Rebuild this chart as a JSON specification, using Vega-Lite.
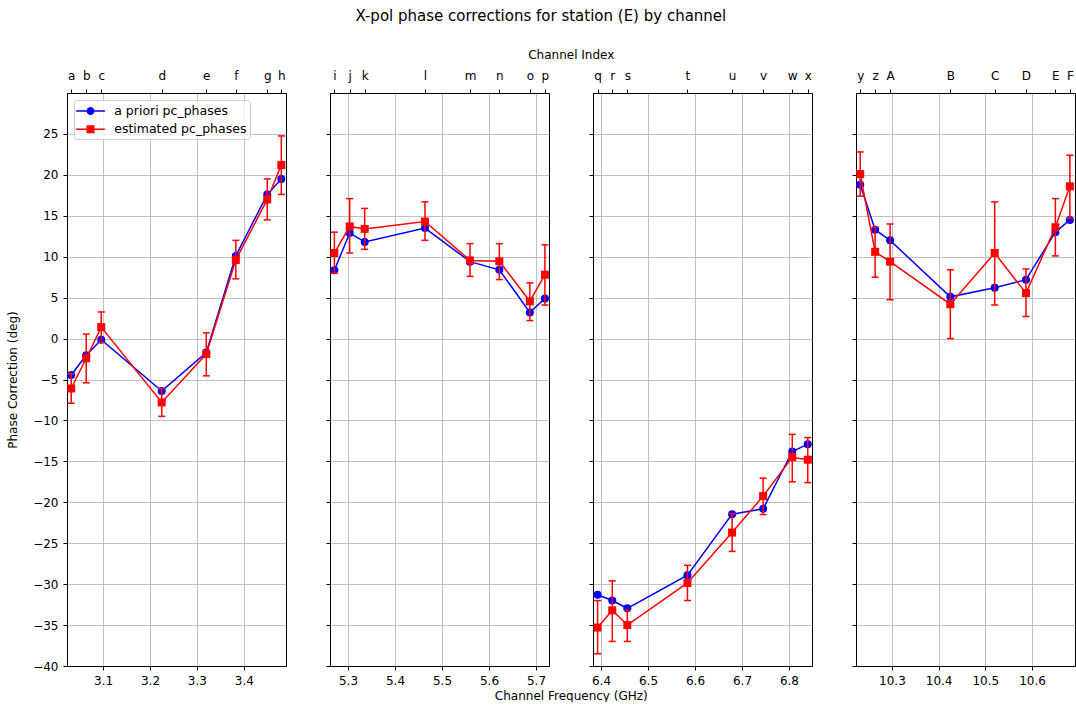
{
  "$schema": "https://vega.github.io/schema/vega-lite/v6.json",
  "padding": {"left": 6, "top": 9, "right": 0, "bottom": 0},
  "bounds": "flush",
  "spacing": 44,
  "title": {"text": "X-pol phase corrections for station (E) by channel", "fontSize": 15, "fontWeight": "normal", "color": "#000000", "anchor": "middle", "offset": 24},
  "config": {
    "font": "DejaVu Sans",
    "view": {"stroke": "#000000", "strokeWidth": 1},
    "axis": {"labelFontSize": 12, "titleFontSize": 12, "titleFontWeight": "normal", "labelColor": "#000000", "titleColor": "#000000", "tickColor": "#000000", "domainColor": "#000000", "tickSize": 4, "tickWidth": 1, "labelPadding": 5, "gridColor": "#b0b0b0", "gridWidth": 0.8, "labelFlush": false, "labelOverlap": false},
    "legend": {"labelFontSize": 12.5, "labelColor": "#000000"}
  },
  "datasets": {
    "pts": [
      {"panel": 1, "ch": "a", "freq": 3.032, "apriori": -4.45, "est": -6.1, "lo": -7.9, "hi": -4.3},
      {"panel": 1, "ch": "b", "freq": 3.064, "apriori": -2.05, "est": -2.4, "lo": -5.4, "hi": 0.55},
      {"panel": 1, "ch": "c", "freq": 3.096, "apriori": -0.15, "est": 1.4, "lo": -0.45, "hi": 3.25},
      {"panel": 1, "ch": "d", "freq": 3.225, "apriori": -6.4, "est": -7.8, "lo": -9.5, "hi": -6.1},
      {"panel": 1, "ch": "e", "freq": 3.32, "apriori": -1.7, "est": -1.9, "lo": -4.55, "hi": 0.7},
      {"panel": 1, "ch": "f", "freq": 3.383, "apriori": 10.1, "est": 9.6, "lo": 7.3, "hi": 12.0},
      {"panel": 1, "ch": "g", "freq": 3.45, "apriori": 17.6, "est": 17.0, "lo": 14.5, "hi": 19.5},
      {"panel": 1, "ch": "h", "freq": 3.48, "apriori": 19.5, "est": 21.2, "lo": 17.6, "hi": 24.75},
      {"panel": 2, "ch": "i", "freq": 5.271, "apriori": 8.35, "est": 10.45, "lo": 8.0, "hi": 13.0},
      {"panel": 2, "ch": "j", "freq": 5.3036, "apriori": 12.9, "est": 13.7, "lo": 10.45, "hi": 17.1},
      {"panel": 2, "ch": "k", "freq": 5.3355, "apriori": 11.8, "est": 13.4, "lo": 10.9, "hi": 15.9},
      {"panel": 2, "ch": "l", "freq": 5.4638, "apriori": 13.5, "est": 14.3, "lo": 12.0, "hi": 16.7},
      {"panel": 2, "ch": "m", "freq": 5.5596, "apriori": 9.4, "est": 9.55, "lo": 7.6, "hi": 11.6},
      {"panel": 2, "ch": "n", "freq": 5.622, "apriori": 8.4, "est": 9.45, "lo": 7.2, "hi": 11.6},
      {"panel": 2, "ch": "o", "freq": 5.687, "apriori": 3.2, "est": 4.55, "lo": 2.2, "hi": 6.8},
      {"panel": 2, "ch": "p", "freq": 5.719, "apriori": 4.9, "est": 7.8, "lo": 4.1, "hi": 11.45},
      {"panel": 3, "ch": "q", "freq": 6.3928, "apriori": -31.3, "est": -35.3, "lo": -38.5, "hi": -32.0},
      {"panel": 3, "ch": "r", "freq": 6.424, "apriori": -32.0, "est": -33.2, "lo": -37.0, "hi": -29.6},
      {"panel": 3, "ch": "s", "freq": 6.456, "apriori": -32.95, "est": -35.0, "lo": -37.0, "hi": -33.2},
      {"panel": 3, "ch": "t", "freq": 6.584, "apriori": -28.9, "est": -29.85, "lo": -32.0, "hi": -27.7},
      {"panel": 3, "ch": "u", "freq": 6.679, "apriori": -21.45, "est": -23.7, "lo": -26.0, "hi": -21.4},
      {"panel": 3, "ch": "v", "freq": 6.745, "apriori": -20.8, "est": -19.25, "lo": -21.5, "hi": -17.05},
      {"panel": 3, "ch": "w", "freq": 6.807, "apriori": -13.8, "est": -14.5, "lo": -17.5, "hi": -11.7},
      {"panel": 3, "ch": "x", "freq": 6.84, "apriori": -12.9, "est": -14.8, "lo": -17.6, "hi": -12.1},
      {"panel": 4, "ch": "y", "freq": 10.232, "apriori": 18.8, "est": 20.1, "lo": 17.4, "hi": 22.8},
      {"panel": 4, "ch": "z", "freq": 10.264, "apriori": 13.3, "est": 10.6, "lo": 7.5, "hi": 13.6},
      {"panel": 4, "ch": "A", "freq": 10.296, "apriori": 12.0, "est": 9.4, "lo": 4.75, "hi": 14.0},
      {"panel": 4, "ch": "B", "freq": 10.425, "apriori": 5.1, "est": 4.2, "lo": 0.0, "hi": 8.4},
      {"panel": 4, "ch": "C", "freq": 10.52, "apriori": 6.2, "est": 10.45, "lo": 4.1, "hi": 16.7},
      {"panel": 4, "ch": "D", "freq": 10.587, "apriori": 7.2, "est": 5.55, "lo": 2.7, "hi": 8.5},
      {"panel": 4, "ch": "E", "freq": 10.65, "apriori": 13.0, "est": 13.6, "lo": 10.1, "hi": 17.1},
      {"panel": 4, "ch": "F", "freq": 10.681, "apriori": 14.5, "est": 18.6, "lo": 14.7, "hi": 22.4}
    ]
  },
  "hconcat": [
    {
      "width": 219, "height": 573,
      "data": {"name": "pts"},
      "transform": [{"filter": "datum.panel == 1"}],
      "encoding": {"x": {"field": "freq", "type": "quantitative", "scale": {"domain": [3.023, 3.49], "nice": false, "zero": false}, "axis": null}},
      "layer": [
        {"mark": {"type": "line", "color": "#0000ff", "strokeWidth": 1.5},
         "encoding": {
           "x": {"field": "freq", "type": "quantitative", "scale": {"domain": [3.023, 3.49], "nice": false, "zero": false}, "axis": {"orient": "bottom", "values": [3.1, 3.2, 3.3, 3.4], "format": ".1f", "grid": true, "title": null}},
           "y": {"field": "apriori", "type": "quantitative", "title": "Phase Correction (deg)", "scale": {"domain": [-40, 30], "nice": false, "zero": false}, "axis": {"values": [-40, -35, -30, -25, -20, -15, -10, -5, 0, 5, 10, 15, 20, 25], "title": "Phase Correction (deg)", "titlePadding": 13, "grid": true}}
         }},
        {"mark": {"type": "point", "shape": "circle", "filled": true, "color": "#0000ff", "size": 64, "opacity": 1},
         "encoding": {"y": {"field": "apriori", "type": "quantitative", "title": "Phase Correction (deg)", "scale": {"domain": [-40, 30], "nice": false, "zero": false}, "axis": {"values": [-40, -35, -30, -25, -20, -15, -10, -5, 0, 5, 10, 15, 20, 25], "title": "Phase Correction (deg)", "titlePadding": 13, "grid": true}}}},
        {"mark": {"type": "rule", "color": "#ff0000", "strokeWidth": 1.5},
         "encoding": {"y": {"field": "lo", "type": "quantitative", "title": "Phase Correction (deg)", "scale": {"domain": [-40, 30], "nice": false, "zero": false}, "axis": {"values": [-40, -35, -30, -25, -20, -15, -10, -5, 0, 5, 10, 15, 20, 25], "title": "Phase Correction (deg)", "titlePadding": 13, "grid": true}}, "y2": {"field": "hi"}}},
        {"mark": {"type": "tick", "orient": "horizontal", "color": "#ff0000", "size": 7, "thickness": 1.5, "opacity": 1},
         "encoding": {"y": {"field": "lo", "type": "quantitative", "title": "Phase Correction (deg)", "scale": {"domain": [-40, 30], "nice": false, "zero": false}, "axis": {"values": [-40, -35, -30, -25, -20, -15, -10, -5, 0, 5, 10, 15, 20, 25], "title": "Phase Correction (deg)", "titlePadding": 13, "grid": true}}}},
        {"mark": {"type": "tick", "orient": "horizontal", "color": "#ff0000", "size": 7, "thickness": 1.5, "opacity": 1},
         "encoding": {"y": {"field": "hi", "type": "quantitative", "title": "Phase Correction (deg)", "scale": {"domain": [-40, 30], "nice": false, "zero": false}, "axis": {"values": [-40, -35, -30, -25, -20, -15, -10, -5, 0, 5, 10, 15, 20, 25], "title": "Phase Correction (deg)", "titlePadding": 13, "grid": true}}}},
        {"mark": {"type": "line", "color": "#ff0000", "strokeWidth": 1.5},
         "encoding": {"y": {"field": "est", "type": "quantitative", "title": "Phase Correction (deg)", "scale": {"domain": [-40, 30], "nice": false, "zero": false}, "axis": {"values": [-40, -35, -30, -25, -20, -15, -10, -5, 0, 5, 10, 15, 20, 25], "title": "Phase Correction (deg)", "titlePadding": 13, "grid": true}}}},
        {"mark": {"type": "point", "shape": "square", "filled": true, "color": "#ff0000", "size": 64, "opacity": 1},
         "encoding": {
           "x": {"field": "freq", "type": "quantitative", "scale": {"domain": [3.023, 3.49], "nice": false, "zero": false}, "axis": {"orient": "top", "labelPadding": 6.5, "values": [3.032, 3.064, 3.096, 3.225, 3.32, 3.383, 3.45, 3.48], "labelExpr": "['a','b','c','d','e','f','g','h'][indexof([3.032, 3.064, 3.096, 3.225, 3.32, 3.383, 3.45, 3.48], datum.value)]", "grid": false, "title": null}},
           "y": {"field": "est", "type": "quantitative", "title": "Phase Correction (deg)", "scale": {"domain": [-40, 30], "nice": false, "zero": false}, "axis": {"values": [-40, -35, -30, -25, -20, -15, -10, -5, 0, 5, 10, 15, 20, 25], "title": "Phase Correction (deg)", "titlePadding": 13, "grid": true}}
         }},
        {"data": {"values": [{"series": "a priori pc_phases"}, {"series": "estimated pc_phases"}]},
         "mark": {"type": "point", "filled": true, "opacity": 0},
         "encoding": {
           "shape": {"field": "series", "type": "nominal", "scale": {"domain": ["a priori pc_phases", "estimated pc_phases"], "range": ["M-1.8,-0.095L1.8,-0.095L1.8,0.095L-1.8,0.095ZM0.5,0A0.5,0.5,0,1,1,-0.5,0A0.5,0.5,0,1,1,0.5,0Z", "M-1.8,-0.095L1.8,-0.095L1.8,0.095L-1.8,0.095ZM-0.5,-0.5L0.5,-0.5L0.5,0.5L-0.5,0.5Z"]},
             "legend": {"title": null, "orient": "top-left", "offset": 6.5, "padding": 3, "symbolOffset": 5.5, "labelOffset": 15.7, "rowPadding": 3.3, "fillColor": "rgba(255,255,255,0.8)", "strokeColor": "#cccccc", "cornerRadius": 3, "symbolSize": 256, "symbolStrokeWidth": 0, "symbolOpacity": 1}},
           "color": {"field": "series", "type": "nominal", "scale": {"domain": ["a priori pc_phases", "estimated pc_phases"], "range": ["#0000ff", "#ff0000"]},
             "legend": {"title": null, "orient": "top-left", "offset": 6.5, "padding": 3, "symbolOffset": 5.5, "labelOffset": 15.7, "rowPadding": 3.3, "fillColor": "rgba(255,255,255,0.8)", "strokeColor": "#cccccc", "cornerRadius": 3, "symbolSize": 256, "symbolStrokeWidth": 0, "symbolOpacity": 1}}
         }}
      ],
      "resolve": {"axis": {"x": "independent"}}
    },
    {
      "width": 219, "height": 573,
      "data": {"name": "pts"},
      "transform": [{"filter": "datum.panel == 2"}],
      "encoding": {"x": {"field": "freq", "type": "quantitative", "scale": {"domain": [5.2617, 5.7277], "nice": false, "zero": false}, "axis": null}},
      "layer": [
        {"mark": {"type": "line", "color": "#0000ff", "strokeWidth": 1.5},
         "encoding": {
           "x": {"field": "freq", "type": "quantitative", "scale": {"domain": [5.2617, 5.7277], "nice": false, "zero": false}, "axis": {"orient": "bottom", "values": [5.3, 5.4, 5.5, 5.6, 5.7], "format": ".1f", "grid": true, "title": "Channel Frequency (GHz)", "titleX": 240.8, "titleAlign": "center", "titlePadding": 4}},
           "y": {"field": "apriori", "type": "quantitative", "title": null, "scale": {"domain": [-40, 30], "nice": false, "zero": false}, "axis": {"values": [-40, -35, -30, -25, -20, -15, -10, -5, 0, 5, 10, 15, 20, 25], "labels": false, "title": null, "grid": true}}
         }},
        {"mark": {"type": "point", "shape": "circle", "filled": true, "color": "#0000ff", "size": 64, "opacity": 1},
         "encoding": {"y": {"field": "apriori", "type": "quantitative", "title": null, "scale": {"domain": [-40, 30], "nice": false, "zero": false}, "axis": {"values": [-40, -35, -30, -25, -20, -15, -10, -5, 0, 5, 10, 15, 20, 25], "labels": false, "title": null, "grid": true}}}},
        {"mark": {"type": "rule", "color": "#ff0000", "strokeWidth": 1.5},
         "encoding": {"y": {"field": "lo", "type": "quantitative", "title": null, "scale": {"domain": [-40, 30], "nice": false, "zero": false}, "axis": {"values": [-40, -35, -30, -25, -20, -15, -10, -5, 0, 5, 10, 15, 20, 25], "labels": false, "title": null, "grid": true}}, "y2": {"field": "hi"}}},
        {"mark": {"type": "tick", "orient": "horizontal", "color": "#ff0000", "size": 7, "thickness": 1.5, "opacity": 1},
         "encoding": {"y": {"field": "lo", "type": "quantitative", "title": null, "scale": {"domain": [-40, 30], "nice": false, "zero": false}, "axis": {"values": [-40, -35, -30, -25, -20, -15, -10, -5, 0, 5, 10, 15, 20, 25], "labels": false, "title": null, "grid": true}}}},
        {"mark": {"type": "tick", "orient": "horizontal", "color": "#ff0000", "size": 7, "thickness": 1.5, "opacity": 1},
         "encoding": {"y": {"field": "hi", "type": "quantitative", "title": null, "scale": {"domain": [-40, 30], "nice": false, "zero": false}, "axis": {"values": [-40, -35, -30, -25, -20, -15, -10, -5, 0, 5, 10, 15, 20, 25], "labels": false, "title": null, "grid": true}}}},
        {"mark": {"type": "line", "color": "#ff0000", "strokeWidth": 1.5},
         "encoding": {"y": {"field": "est", "type": "quantitative", "title": null, "scale": {"domain": [-40, 30], "nice": false, "zero": false}, "axis": {"values": [-40, -35, -30, -25, -20, -15, -10, -5, 0, 5, 10, 15, 20, 25], "labels": false, "title": null, "grid": true}}}},
        {"mark": {"type": "point", "shape": "square", "filled": true, "color": "#ff0000", "size": 64, "opacity": 1},
         "encoding": {
           "x": {"field": "freq", "type": "quantitative", "scale": {"domain": [5.2617, 5.7277], "nice": false, "zero": false}, "axis": {"orient": "top", "labelPadding": 6.5, "values": [5.271, 5.3036, 5.3355, 5.4638, 5.5596, 5.622, 5.687, 5.719], "labelExpr": "['i','j','k','l','m','n','o','p'][indexof([5.271, 5.3036, 5.3355, 5.4638, 5.5596, 5.622, 5.687, 5.719], datum.value)]", "grid": false, "title": "Channel Index", "titleX": 240.8, "titleAlign": "center", "titlePadding": 8}},
           "y": {"field": "est", "type": "quantitative", "title": null, "scale": {"domain": [-40, 30], "nice": false, "zero": false}, "axis": {"values": [-40, -35, -30, -25, -20, -15, -10, -5, 0, 5, 10, 15, 20, 25], "labels": false, "title": null, "grid": true}}
         }}
      ],
      "resolve": {"axis": {"x": "independent"}}
    },
    {
      "width": 219, "height": 573,
      "data": {"name": "pts"},
      "transform": [{"filter": "datum.panel == 3"}],
      "encoding": {"x": {"field": "freq", "type": "quantitative", "scale": {"domain": [6.383, 6.849], "nice": false, "zero": false}, "axis": null}},
      "layer": [
        {"mark": {"type": "line", "color": "#0000ff", "strokeWidth": 1.5},
         "encoding": {
           "x": {"field": "freq", "type": "quantitative", "scale": {"domain": [6.383, 6.849], "nice": false, "zero": false}, "axis": {"orient": "bottom", "values": [6.4, 6.5, 6.6, 6.7, 6.8], "format": ".1f", "grid": true, "title": null}},
           "y": {"field": "apriori", "type": "quantitative", "title": null, "scale": {"domain": [-40, 30], "nice": false, "zero": false}, "axis": {"values": [-40, -35, -30, -25, -20, -15, -10, -5, 0, 5, 10, 15, 20, 25], "labels": false, "title": null, "grid": true}}
         }},
        {"mark": {"type": "point", "shape": "circle", "filled": true, "color": "#0000ff", "size": 64, "opacity": 1},
         "encoding": {"y": {"field": "apriori", "type": "quantitative", "title": null, "scale": {"domain": [-40, 30], "nice": false, "zero": false}, "axis": {"values": [-40, -35, -30, -25, -20, -15, -10, -5, 0, 5, 10, 15, 20, 25], "labels": false, "title": null, "grid": true}}}},
        {"mark": {"type": "rule", "color": "#ff0000", "strokeWidth": 1.5},
         "encoding": {"y": {"field": "lo", "type": "quantitative", "title": null, "scale": {"domain": [-40, 30], "nice": false, "zero": false}, "axis": {"values": [-40, -35, -30, -25, -20, -15, -10, -5, 0, 5, 10, 15, 20, 25], "labels": false, "title": null, "grid": true}}, "y2": {"field": "hi"}}},
        {"mark": {"type": "tick", "orient": "horizontal", "color": "#ff0000", "size": 7, "thickness": 1.5, "opacity": 1},
         "encoding": {"y": {"field": "lo", "type": "quantitative", "title": null, "scale": {"domain": [-40, 30], "nice": false, "zero": false}, "axis": {"values": [-40, -35, -30, -25, -20, -15, -10, -5, 0, 5, 10, 15, 20, 25], "labels": false, "title": null, "grid": true}}}},
        {"mark": {"type": "tick", "orient": "horizontal", "color": "#ff0000", "size": 7, "thickness": 1.5, "opacity": 1},
         "encoding": {"y": {"field": "hi", "type": "quantitative", "title": null, "scale": {"domain": [-40, 30], "nice": false, "zero": false}, "axis": {"values": [-40, -35, -30, -25, -20, -15, -10, -5, 0, 5, 10, 15, 20, 25], "labels": false, "title": null, "grid": true}}}},
        {"mark": {"type": "line", "color": "#ff0000", "strokeWidth": 1.5},
         "encoding": {"y": {"field": "est", "type": "quantitative", "title": null, "scale": {"domain": [-40, 30], "nice": false, "zero": false}, "axis": {"values": [-40, -35, -30, -25, -20, -15, -10, -5, 0, 5, 10, 15, 20, 25], "labels": false, "title": null, "grid": true}}}},
        {"mark": {"type": "point", "shape": "square", "filled": true, "color": "#ff0000", "size": 64, "opacity": 1},
         "encoding": {
           "x": {"field": "freq", "type": "quantitative", "scale": {"domain": [6.383, 6.849], "nice": false, "zero": false}, "axis": {"orient": "top", "labelPadding": 6.5, "values": [6.3928, 6.424, 6.456, 6.584, 6.679, 6.745, 6.807, 6.84], "labelExpr": "['q','r','s','t','u','v','w','x'][indexof([6.3928, 6.424, 6.456, 6.584, 6.679, 6.745, 6.807, 6.84], datum.value)]", "grid": false, "title": null}},
           "y": {"field": "est", "type": "quantitative", "title": null, "scale": {"domain": [-40, 30], "nice": false, "zero": false}, "axis": {"values": [-40, -35, -30, -25, -20, -15, -10, -5, 0, 5, 10, 15, 20, 25], "labels": false, "title": null, "grid": true}}
         }}
      ],
      "resolve": {"axis": {"x": "independent"}}
    },
    {
      "width": 219, "height": 573,
      "data": {"name": "pts"},
      "transform": [{"filter": "datum.panel == 4"}],
      "encoding": {"x": {"field": "freq", "type": "quantitative", "scale": {"domain": [10.223, 10.692], "nice": false, "zero": false}, "axis": null}},
      "layer": [
        {"mark": {"type": "line", "color": "#0000ff", "strokeWidth": 1.5},
         "encoding": {
           "x": {"field": "freq", "type": "quantitative", "scale": {"domain": [10.223, 10.692], "nice": false, "zero": false}, "axis": {"orient": "bottom", "values": [10.3, 10.4, 10.5, 10.6], "format": ".1f", "grid": true, "title": null}},
           "y": {"field": "apriori", "type": "quantitative", "title": null, "scale": {"domain": [-40, 30], "nice": false, "zero": false}, "axis": {"values": [-40, -35, -30, -25, -20, -15, -10, -5, 0, 5, 10, 15, 20, 25], "labels": false, "title": null, "grid": true}}
         }},
        {"mark": {"type": "point", "shape": "circle", "filled": true, "color": "#0000ff", "size": 64, "opacity": 1},
         "encoding": {"y": {"field": "apriori", "type": "quantitative", "title": null, "scale": {"domain": [-40, 30], "nice": false, "zero": false}, "axis": {"values": [-40, -35, -30, -25, -20, -15, -10, -5, 0, 5, 10, 15, 20, 25], "labels": false, "title": null, "grid": true}}}},
        {"mark": {"type": "rule", "color": "#ff0000", "strokeWidth": 1.5},
         "encoding": {"y": {"field": "lo", "type": "quantitative", "title": null, "scale": {"domain": [-40, 30], "nice": false, "zero": false}, "axis": {"values": [-40, -35, -30, -25, -20, -15, -10, -5, 0, 5, 10, 15, 20, 25], "labels": false, "title": null, "grid": true}}, "y2": {"field": "hi"}}},
        {"mark": {"type": "tick", "orient": "horizontal", "color": "#ff0000", "size": 7, "thickness": 1.5, "opacity": 1},
         "encoding": {"y": {"field": "lo", "type": "quantitative", "title": null, "scale": {"domain": [-40, 30], "nice": false, "zero": false}, "axis": {"values": [-40, -35, -30, -25, -20, -15, -10, -5, 0, 5, 10, 15, 20, 25], "labels": false, "title": null, "grid": true}}}},
        {"mark": {"type": "tick", "orient": "horizontal", "color": "#ff0000", "size": 7, "thickness": 1.5, "opacity": 1},
         "encoding": {"y": {"field": "hi", "type": "quantitative", "title": null, "scale": {"domain": [-40, 30], "nice": false, "zero": false}, "axis": {"values": [-40, -35, -30, -25, -20, -15, -10, -5, 0, 5, 10, 15, 20, 25], "labels": false, "title": null, "grid": true}}}},
        {"mark": {"type": "line", "color": "#ff0000", "strokeWidth": 1.5},
         "encoding": {"y": {"field": "est", "type": "quantitative", "title": null, "scale": {"domain": [-40, 30], "nice": false, "zero": false}, "axis": {"values": [-40, -35, -30, -25, -20, -15, -10, -5, 0, 5, 10, 15, 20, 25], "labels": false, "title": null, "grid": true}}}},
        {"mark": {"type": "point", "shape": "square", "filled": true, "color": "#ff0000", "size": 64, "opacity": 1},
         "encoding": {
           "x": {"field": "freq", "type": "quantitative", "scale": {"domain": [10.223, 10.692], "nice": false, "zero": false}, "axis": {"orient": "top", "labelPadding": 6.5, "values": [10.232, 10.264, 10.296, 10.425, 10.52, 10.587, 10.65, 10.681], "labelExpr": "['y','z','A','B','C','D','E','F'][indexof([10.232, 10.264, 10.296, 10.425, 10.52, 10.587, 10.65, 10.681], datum.value)]", "grid": false, "title": null}},
           "y": {"field": "est", "type": "quantitative", "title": null, "scale": {"domain": [-40, 30], "nice": false, "zero": false}, "axis": {"values": [-40, -35, -30, -25, -20, -15, -10, -5, 0, 5, 10, 15, 20, 25], "labels": false, "title": null, "grid": true}}
         }}
      ],
      "resolve": {"axis": {"x": "independent"}}
    }
  ]
}
